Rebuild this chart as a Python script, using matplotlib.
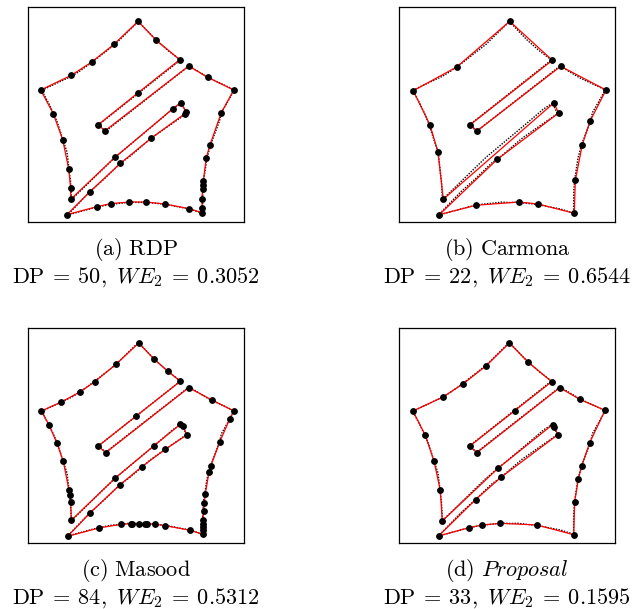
import matplotlib
matplotlib.use("Agg")
import matplotlib.pyplot as plt

plt.rcParams['mathtext.fontset'] = 'cm'

# original contour, pixel coords inside the box (y grows downward)
contour_pts = [
    (110.4, 14.5), (127.5, 32.5), (140, 43.5), (152.5, 53),
    (70.7, 117.7), (77.5, 124.3), (161, 59), (181, 71), (206.3, 82.8),
    (201.5, 91.5), (193.5, 105.5), (191.5, 114), (182.5, 138), (179, 151),
    (177, 164), (175.5, 174), (174.8, 185), (174.6, 195), (174.7, 206.3),
    (161.5, 202), (137.5, 197.3), (127.3, 196.3), (118.5, 195.3), (110.7, 195.5),
    (102, 195.2), (93.3, 196.2), (83.3, 197.2), (70, 199.8), (39.5, 208),
    (62, 184.6), (76.6, 171.6), (92.4, 156.3), (102, 149.3), (123, 131.3),
    (137.3, 121.3), (158.5, 106.6), (153.5, 96.3),
    (145, 101.6), (125.7, 118), (99, 140.3), (87, 150.3), (43.5, 192.5),
    (42.8, 181), (42.5, 174), (41.5, 167), (41, 162), (39, 145), (35, 133),
    (29.3, 115.3), (25.8, 107), (21, 97), (13.7, 83.3),
    (33.3, 74), (44, 69), (52.3, 63.7), (64, 55.3), (87, 37.3),
]

rdp_pts = [
    (110, 14.3), (128.3, 33.3), (151.7, 52.7), (110, 85.8), (70.4, 117.6),
    (76.7, 124), (160.7, 59), (179.7, 70.3), (205.7, 83), (193.3, 105.7),
    (182, 137.7), (178.3, 150.7), (175.3, 174.3), (175, 177.5), (175, 181.7),
    (173.7, 191.7), (174.3, 201), (174, 205.7), (160.7, 201.6), (137, 197),
    (118.4, 195), (101.3, 195), (82.7, 196.6), (69.3, 199.6), (39, 207.6),
    (62, 184.6), (92.4, 156.3), (123, 131.3), (157, 106.6), (158, 104.5),
    (152.7, 95.6), (145, 101.6), (87, 150.3), (42.7, 192.3), (42.7, 181),
    (40.7, 162), (34.7, 132.6), (25.3, 106.7), (12.7, 83), (43.3, 68.3),
    (63.7, 55), (86, 37.3),
]

carmona_pts = [
    (110.7, 14.3), (153.3, 53.3), (71.3, 117.7), (78, 124), (161.7, 59.3),
    (207, 83), (191, 114.3), (183.3, 137.7), (176.3, 173.3), (175.3, 206.3),
    (139, 197), (120, 195), (76.7, 198.3), (40.3, 207.7), (98.3, 152.3),
    (159.7, 106), (154.7, 96), (44.3, 192.3), (39, 145), (31, 118),
    (14.3, 83.7), (57.7, 60),
]

masood_pts = [
    (110.7, 15), (126, 31), (140, 43.3), (152.3, 53.3), (108.3, 88),
    (70.3, 118), (77.7, 124.7), (160.7, 59.7), (184, 72), (205.7, 83),
    (201.7, 91), (191.7, 114), (182.7, 138.3), (181, 144.3), (177.3, 165.7),
    (176.3, 175), (175.7, 183), (174.7, 192.3), (174.7, 195.7), (174.7, 199),
    (174.7, 202.3), (174.7, 206.3), (162.3, 202.3), (137.3, 197.7), (127.3, 196.3),
    (119, 195.7), (117.3, 195.7), (110.7, 195.7), (104.5, 195.7), (103, 195.7),
    (93.3, 196.3), (70.7, 200), (39.7, 208.3), (62.3, 184.7), (91.7, 157),
    (114, 138.6), (137.3, 121.3), (158.7, 107), (155.3, 98.3), (152.3, 96.3),
    (125.7, 118), (87.3, 150), (43.3, 192.3), (42.7, 174), (41.7, 167.3),
    (41, 162.3), (35.3, 133.3), (29, 115.3), (21, 97), (13.3, 83),
    (33.3, 74), (52.3, 63.7), (66.7, 53.7), (88, 36.3),
]

proposal_pts = [
    (110.3, 15), (129, 34), (152.7, 53.7), (116, 82.5), (70.6, 118.3),
    (78, 124.6), (160.7, 59.7), (180.7, 71.3), (206, 82.3), (190.7, 114.7),
    (182.7, 138), (179.3, 151), (175.7, 173.7), (174.7, 206.7), (138, 197),
    (101.3, 195.3), (83, 197), (70, 199.6), (39.6, 208), (76.6, 171.6),
    (102, 149.3), (159, 106.6), (155, 99), (153.6, 96.6), (99, 140.3),
    (43.3, 193), (41.3, 162.3), (35, 133), (26.3, 107.3), (14, 83),
    (44, 69), (64.3, 55.7), (87.3, 37.7),
]

panel_titles = [r'$\mathrm{(a)\ RDP}$', r'$\mathrm{(b)\ Carmona}$',
                r'$\mathrm{(c)\ Masood}$', r'$\mathrm{(d)}\ \mathit{Proposal}$']
dp_counts = [50, 22, 84, 33]
we2_values = ['0.3052', '0.6544', '0.5312', '0.1595']


def draw_panel(ax, pts):
    cx = [p[0] for p in contour_pts] + [contour_pts[0][0]]
    cy = [p[1] for p in contour_pts] + [contour_pts[0][1]]
    ax.plot(cx, cy, color='black', lw=1.0, ls=(0, (1, 1)), zorder=2)
    px = [p[0] for p in pts] + [pts[0][0]]
    py = [p[1] for p in pts] + [pts[0][1]]
    ax.plot(px, py, color='red', lw=0.9, zorder=3)
    ax.plot(px[:-1], py[:-1], 'o', color='black', ms=3.9, zorder=4)
    ax.set_xlim(0, 216)
    ax.set_ylim(215, 0)
    ax.set_xticks([])
    ax.set_yticks([])
    for s in ax.spines.values():
        s.set_linewidth(0.9)


fig = plt.figure(figsize=(6.36, 6.09), dpi=100)
W, H = 636, 609

# box left/top in pixels
boxes = [(28, 7), (399, 7), (28, 328), (399, 328)]
all_pts = [rdp_pts, carmona_pts, masood_pts, proposal_pts]

for i in range(4):
    left, top = boxes[i]
    ax = fig.add_axes([left / W, (H - top - 215) / H, 216 / W, 215 / H])
    draw_panel(ax, all_pts[i])
    xc = (left + 108) / W
    b1 = top + 215 + 33
    b2 = top + 215 + 61
    fig.text(xc, (H - b1) / H, panel_titles[i], ha='center', va='baseline', fontsize=16)
    line2 = r'$\mathrm{DP}\:=\:%d,\ WE_2\:=\:%s$' % (dp_counts[i], we2_values[i])
    fig.text(xc, (H - b2) / H, line2, ha='center', va='baseline', fontsize=16)

fig.savefig('out.png', dpi=100)
